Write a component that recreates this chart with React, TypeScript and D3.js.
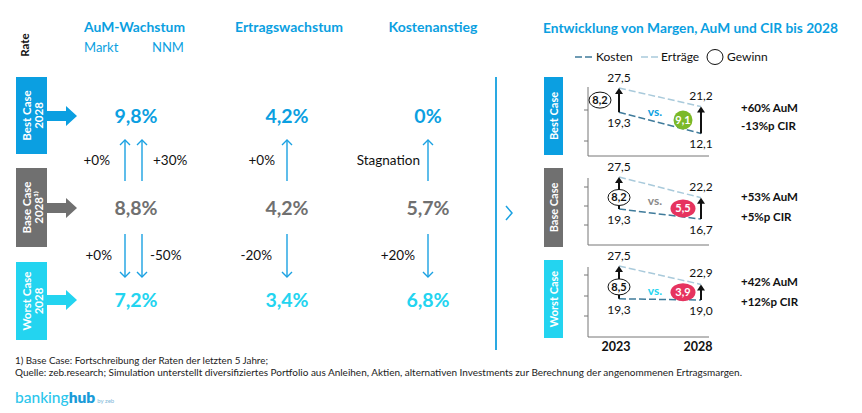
import React from 'react';
import * as d3 from 'd3';

// ---------- data ----------
const caseNames = ['Best Case', 'Base Case', 'Worst Case'];
const caseYears = ['2028', '2028¹⁾', '2028'];
const aumGrowth = [9.8, 8.8, 7.2];
const revenueGrowth = [4.2, 4.2, 3.4];
const costIncrease = [0, 5.7, 6.8];
const marktChange = ['+0%', '+0%'];
const nnmChange = ['+30%', '-50%'];
const revenueChange = ['+0%', '-20%'];
const costChange = ['Stagnation', '+20%'];
const years = ['2023', '2028'];
const revenue2023 = [27.5, 27.5, 27.5];
const revenue2028 = [21.2, 22.2, 22.9];
const cost2023 = [19.3, 19.3, 19.3];
const cost2028 = [12.1, 16.7, 19.0];
const profit2023 = [8.2, 8.2, 8.5];
const profit2028 = [9.1, 5.5, 3.9];
const aumDelta = ['+60% AuM', '+53% AuM', '+42% AuM'];
const cirDelta = ['-13%p CIR', '+5%p CIR', '+12%p CIR'];

// ---------- style ----------
const FONT = 'Lato, "Open Sans", sans-serif';
const BLUE = '#0b9fe1';
const GRAY = '#707070';
const CYAN = '#23d4f0';
const ARROW = '#1aa1e2';
const REV = '#a9cadb';
const COST = '#3f7b9b';
const caseColors = [BLUE, GRAY, CYAN];
const profitColors = ['#7bb928', '#e6335f', '#e6335f'];
const vsColors = [BLUE, '#8a8a8a', CYAN];

const de = (v: number) => d3.format('.1f')(v).replace('.', ',');
const pct = (v: number) => (v === 0 ? '0%' : de(v) + '%');

// layout
const rowY = [116, 208, 300];
const leftBox = [[77, 154], [168, 247], [262, 340]];
const rightBox = [[77, 155], [168, 247], [260, 338]];
const colX = [136, 287, 428];
const panelTop = [88, 177, 266];
const panelK = [2.95, 3.9, 4.0];
const axisTop = [87, 178, 267];
const axisBottom = [156, 245, 337];
const tickOffsets = [[23, 54], [9, 28, 47], [8, 29, 49]];
const LBL = 13.5;

function UpArrow({ x, y1, y2, w = 1.4, color = ARROW, head = 5 }: any) {
  return (
    <g stroke={color} strokeWidth={w} fill="none">
      <line x1={x} y1={y1} x2={x} y2={y2} />
      <polyline points={`${x - head},${y2 + head} ${x},${y2} ${x + head},${y2 + head}`} />
    </g>
  );
}
function DownArrow({ x, y1, y2, w = 1.4, color = ARROW, head = 5 }: any) {
  return (
    <g stroke={color} strokeWidth={w} fill="none">
      <line x1={x} y1={y1} x2={x} y2={y2} />
      <polyline points={`${x - head},${y2 - head} ${x},${y2} ${x + head},${y2 - head}`} />
    </g>
  );
}
function SolidUp({ x, y1, y2 }: any) {
  return (
    <g>
      <line x1={x} y1={y1} x2={x} y2={y2 + 5} stroke="#111" strokeWidth={2} />
      <path d={`M${x - 4},${y2 + 6} L${x},${y2} L${x + 4},${y2 + 6} Z`} fill="#111" />
    </g>
  );
}

export default function App() {
  const x = d3.scalePoint<string>().domain(years).range([619, 701]);
  const colValues = [aumGrowth, revenueGrowth, costIncrease];

  return (
    <svg width={862} height={413} style={{ position: 'absolute', left: 0, top: 0, background: '#fff' }} fontFamily={FONT}>
      <rect width={862} height={413} fill="#fff" />
      <text transform="translate(29,45) rotate(-90)" textAnchor="middle" fontSize={11.5} fontWeight={700} fill="#111">Rate</text>

      {/* headers */}
      <text x={84} y={32} fontSize={14} fontWeight={700} fill={BLUE} textLength={101} lengthAdjust="spacingAndGlyphs">AuM-Wachstum</text>
      <text x={84} y={52} fontSize={13} fill={BLUE}>Markt</text>
      <text x={152} y={52} fontSize={13} fill={BLUE}>NNM</text>
      <text x={289} y={32} fontSize={14} fontWeight={700} fill={BLUE} textAnchor="middle">Ertragswachstum</text>
      <text x={433} y={32} fontSize={14} fontWeight={700} fill={BLUE} textAnchor="middle">Kostenanstieg</text>

      {/* left case boxes */}
      {caseNames.map((c, i) => {
        const [t, b] = leftBox[i];
        const cy = rowY[i];
        const mid = (t + b) / 2;
        return (
          <g key={c}>
            <rect x={16} y={t} width={31} height={b - t} fill={caseColors[i]} />
            <path d={`M47,${cy - 5} L66,${cy - 5} L66,${cy - 10} L77,${cy} L66,${cy + 10} L66,${cy + 5} L47,${cy + 5} Z`} fill={caseColors[i]} />
            <text transform={`translate(31,${mid}) rotate(-90)`} textAnchor="middle" fontSize={11.5} fontWeight={700} fill="#fff">{c}</text>
            <text transform={`translate(43,${mid}) rotate(-90)`} textAnchor="middle" fontSize={11.5} fontWeight={700} fill="#fff">{caseYears[i]}</text>
          </g>
        );
      })}

      {/* values */}
      {colValues.map((vals, ci) =>
        vals.map((v, ri) => (
          <text key={ci + '-' + ri} x={colX[ci]} y={rowY[ri] + 7} textAnchor="middle" fontSize={19.5} fontWeight={700} fill={caseColors[ri]}>{pct(v)}</text>
        ))
      )}

      {/* AuM arrows */}
      <UpArrow x={125} y1={181} y2={140} />
      <UpArrow x={142} y1={181} y2={140} />
      <DownArrow x={125} y1={234} y2={277} />
      <DownArrow x={142} y1={234} y2={277} />
      <text x={110} y={165} textAnchor="end" fontSize={LBL} fill="#111">{marktChange[0]}</text>
      <text x={153} y={165} fontSize={LBL} fill="#111">{nnmChange[0]}</text>
      <text x={112} y={260} textAnchor="end" fontSize={LBL} fill="#111">{marktChange[1]}</text>
      <text x={150} y={260} fontSize={LBL} fill="#111">{nnmChange[1]}</text>

      {/* Ertrag arrows */}
      <UpArrow x={287} y1={181} y2={140} />
      <DownArrow x={287} y1={234} y2={277} />
      <text x={275} y={165} textAnchor="end" fontSize={LBL} fill="#111">{revenueChange[0]}</text>
      <text x={272} y={260} textAnchor="end" fontSize={LBL} fill="#111">{revenueChange[1]}</text>

      {/* Kosten arrows */}
      <UpArrow x={428} y1={181} y2={140} />
      <DownArrow x={428} y1={234} y2={277} />
      <text x={420} y={165} textAnchor="end" fontSize={LBL} fill="#111">{costChange[0]}</text>
      <text x={415} y={260} textAnchor="end" fontSize={LBL} fill="#111">{costChange[1]}</text>

      {/* divider */}
      <line x1={496} y1={77} x2={496} y2={350} stroke="#2aa9e2" strokeWidth={2} />
      <polyline points="506,206 512,213 506,220" fill="none" stroke={ARROW} strokeWidth={1.5} />

      {/* right title */}
      <text x={543} y={33} fontSize={13.5} fontWeight={700} fill={BLUE} textLength={295} lengthAdjust="spacingAndGlyphs">Entwicklung von Margen, AuM und CIR bis 2028</text>

      {/* legend */}
      <line x1={575} y1={57} x2={592} y2={57} stroke={COST} strokeWidth={1.5} strokeDasharray="7 3" />
      <text x={596} y={61} fontSize={12} fill="#111">Kosten</text>
      <line x1={641} y1={57} x2={658} y2={57} stroke={REV} strokeWidth={1.5} strokeDasharray="7 3" />
      <text x={661} y={61} fontSize={12} fill="#111">Erträge</text>
      <ellipse cx={715} cy={57} rx={8} ry={7.5} fill="#fff" stroke="#111" strokeWidth={1} />
      <text x={727} y={61} fontSize={12} fill="#111">Gewinn</text>

      {/* mini charts */}
      {caseNames.map((c, i) => {
        const k = panelK[i];
        const top = panelTop[i];
        const y = d3.scaleLinear().domain([0, 27.5]).range([top + 27.5 * k, top]);
        const [bt, bb] = rightBox[i];
        const x0 = x('2023')!;
        const x1 = x('2028')!;
        const r23 = y(revenue2023[i]);
        const c23 = y(cost2023[i]);
        const r28 = y(revenue2028[i]);
        const c28 = y(cost2028[i]);
        const revLine = d3.line<[number, number]>()([[x0, r23], [x1, r28]]) || '';
        const costLine = d3.line<[number, number]>()([[x0, c23], [x1, c28]]) || '';
        const ellX = i === 0 ? 600 : x0;
        const ellY = i === 0 ? (r23 + c23) / 2 : (r23 + c23) / 2 + 4.5;
        const pY = (r28 + c28) / 2;
        return (
          <g key={c}>
            <rect x={544} y={bt} width={19} height={bb - bt} fill={caseColors[i]} />
            <text transform={`translate(558,${(bt + bb) / 2}) rotate(-90)`} textAnchor="middle" fontSize={11} fontWeight={700} fill="#fff">{c}</text>
            <line x1={588} y1={axisTop[i]} x2={588} y2={axisBottom[i]} stroke="#777" strokeWidth={1} />
            <line x1={588} y1={axisBottom[i]} x2={709} y2={axisBottom[i]} stroke="#777" strokeWidth={1} />
            {tickOffsets[i].map((o) => (
              <line key={o} x1={584} x2={588} y1={axisTop[i] + o} y2={axisTop[i] + o} stroke="#777" strokeWidth={1} />
            ))}
            <path d={revLine} stroke={REV} strokeWidth={1.5} strokeDasharray="7 3" fill="none" />
            <path d={costLine} stroke={COST} strokeWidth={1.5} strokeDasharray="7 3" fill="none" />
            <SolidUp x={x0} y1={c23} y2={r23} />
            <SolidUp x={x1} y1={c28} y2={r28} />
            <text x={x0} y={r23 - 6} textAnchor="middle" fontSize={12} fill="#111">{de(revenue2023[i])}</text>
            <text x={x0} y={c23 + 15} textAnchor="middle" fontSize={12} fill="#111">{de(cost2023[i])}</text>
            <text x={x1} y={r28 - 7} textAnchor="middle" fontSize={12} fill="#111">{de(revenue2028[i])}</text>
            <text x={x1} y={c28 + 15} textAnchor="middle" fontSize={12} fill="#111">{de(cost2028[i])}</text>
            <ellipse cx={ellX} cy={ellY} rx={11} ry={8} fill="#fff" stroke="#111" strokeWidth={1} />
            <text x={ellX} y={ellY + 4} textAnchor="middle" fontSize={11} fontWeight={700} fill="#111">{de(profit2023[i])}</text>
            <text x={655} y={[116, 205, 295][i]} textAnchor="middle" fontSize={12} fontWeight={700} fill={vsColors[i]}>vs.</text>
            {i === 0 ? (
              <circle cx={683} cy={pY} r={9.5} fill={profitColors[i]} />
            ) : (
              <ellipse cx={683} cy={pY} rx={12.5} ry={9} fill={profitColors[i]} />
            )}
            <text x={683} y={pY + 4} textAnchor="middle" fontSize={11} fontWeight={700} fill="#fff">{de(profit2028[i])}</text>
            <text x={741} y={[112, 201, 286][i]} fontSize={11.5} fontWeight={700} fill="#111">{aumDelta[i]}</text>
            <text x={741} y={[130, 221, 306][i]} fontSize={11.5} fontWeight={700} fill="#111">{cirDelta[i]}</text>
          </g>
        );
      })}
      {years.map((yr) => (
        <text key={yr} x={(x(yr) as number) - 3} y={351} textAnchor="middle" fontSize={12.5} fontWeight={700} fill="#111">{yr}</text>
      ))}

      {/* footnotes */}
      <text x={15} y={364} fontSize={9.5} fill="#222" textLength={253} lengthAdjust="spacingAndGlyphs">1) Base Case: Fortschreibung der Raten der letzten 5 Jahre;</text>
      <text x={15} y={376} fontSize={9.5} fill="#222" textLength={727} lengthAdjust="spacingAndGlyphs">Quelle: zeb.research; Simulation unterstellt diversifiziertes Portfolio aus Anleihen, Aktien, alternativen Investments zur Berechnung der angenommenen Ertragsmargen.</text>

      {/* logo */}
      <text x={15} y={403} fontSize={15.5}>
        <tspan fill="#2cc6ec" fontWeight={500}>banking</tspan>
        <tspan fill="#1a9bd8" fontWeight={800}>hub</tspan>
        <tspan fill="#7fb8d8" fontSize={6} dx={2}>by zeb</tspan>
      </text>
    </svg>
  );
}
